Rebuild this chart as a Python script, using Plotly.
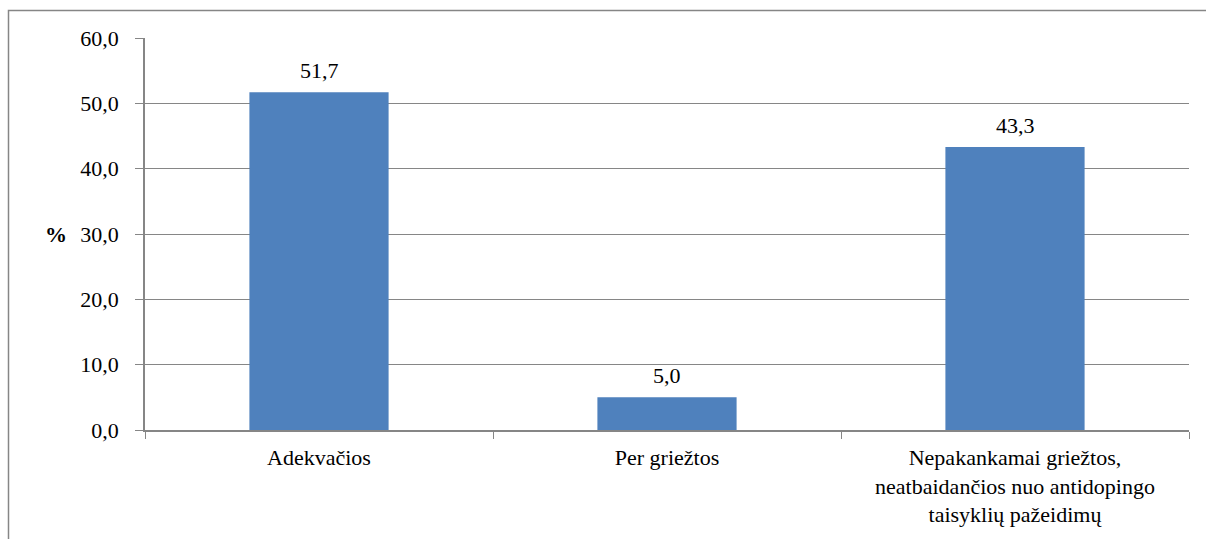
import plotly.graph_objects as go

categories = ["Adekvačios", "Per griežtos",
              "Nepakankamai griežtos,<br>neatbaidančios nuo antidopingo<br>taisyklių pažeidimų"]
values = [51.7, 5.0, 43.3]
y_ticks = [0, 10, 20, 30, 40, 50, 60]

FONT = "Liberation Serif, Times New Roman, serif"
GRID = "#868686"

fig = go.Figure(go.Bar(
    x=categories, y=values,
    marker=dict(color="#4F81BD", line=dict(width=0)),
    hoverinfo="x+y",
))

W, H = 1206, 539
ml, mr, mt, mb = 145, 17, 38, 109
pw, ph = W - ml - mr, H - mt - mb

annotations = [dict(
    text="<b>%</b>", xref="paper", yref="paper",
    x=(56 - ml) / pw, y=0.5, xanchor="center", yanchor="middle",
    showarrow=False,
    font=dict(family=FONT, size=22, color="black"),
)]
for c, v in zip(categories, values):
    annotations.append(dict(
        x=c, y=v, xref="x", yref="y",
        text=f"{v:.1f}".replace(".", ","),
        showarrow=False, xanchor="center", yanchor="bottom", yshift=7,
        font=dict(family=FONT, size=22, color="black"),
    ))

fig.update_layout(
    width=W, height=H,
    margin=dict(l=ml, r=mr, t=mt, b=mb),
    paper_bgcolor="white", plot_bgcolor="white",
    separators=",.",
    bargap=0.6,
    showlegend=False,
    font=dict(family=FONT, size=22, color="black"),
    xaxis=dict(
        showline=True, linecolor=GRID, linewidth=1.5,
        ticks="outside", tickson="boundaries", ticklen=7, tickcolor=GRID,
        ticklabelstandoff=7,
        showgrid=False, tickfont=dict(family=FONT, size=22, color="black"),
    ),
    yaxis=dict(
        range=[0, 60], tickvals=y_ticks, tickformat=".1f",
        showline=True, linecolor=GRID, linewidth=1.5,
        ticks="outside", ticklen=8, tickcolor=GRID,
        ticklabelstandoff=12,
        showgrid=True, gridcolor=GRID, gridwidth=1.2,
        zeroline=False,
        tickfont=dict(family=FONT, size=22, color="black"),
    ),
    annotations=annotations,
    shapes=[dict(
        type="rect", xref="paper", yref="paper",
        x0=(8.5 - ml) / pw, x1=(W + 20 - ml) / pw,
        y0=-(mb + 20) / ph, y1=(ph + mt - 10.5) / ph,
        line=dict(color=GRID, width=1.5), fillcolor="rgba(0,0,0,0)",
        layer="below",
    )],
)

fig.write_html("out.html")
